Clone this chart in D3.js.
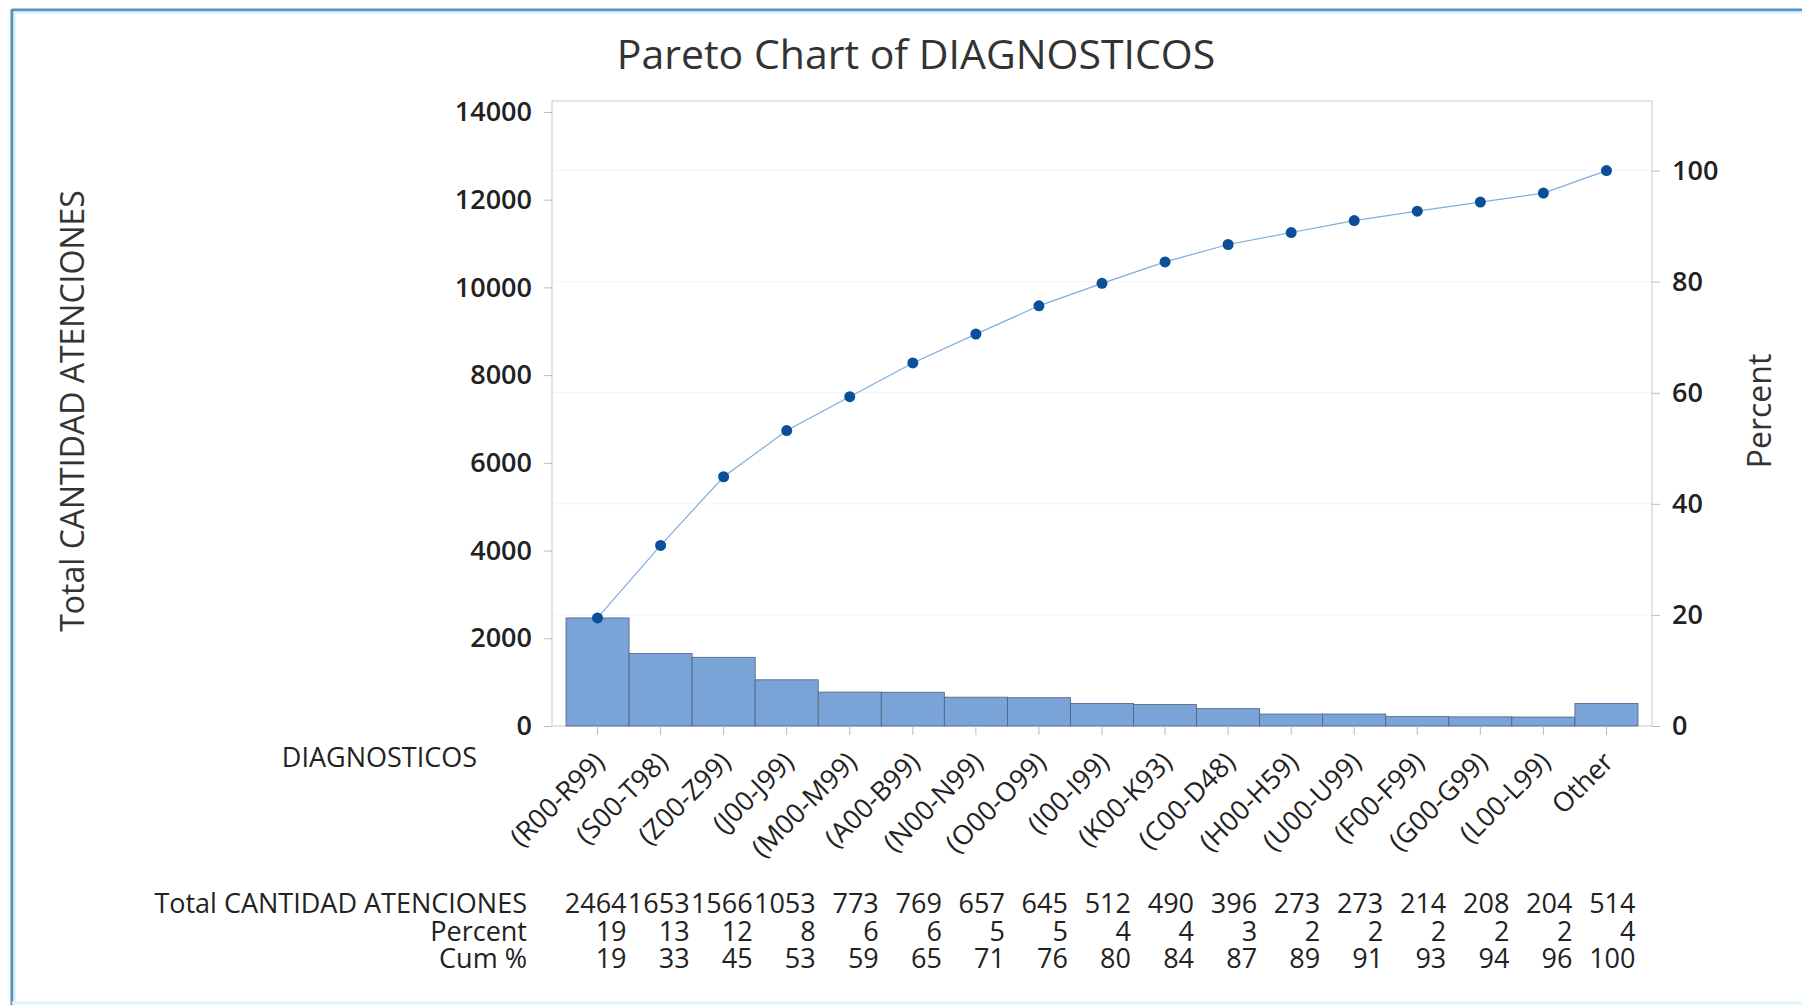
<!DOCTYPE html>
<html>
<head>
<meta charset="utf-8">
<script src="https://cdn.jsdelivr.net/npm/d3@7"></script>
<style>
  body { margin: 0; background: #fff; }
  svg { display: block; font-family: "Open Sans", "Noto Sans", sans-serif; }
</style>
</head>
<body>
<div id="chart"></div>
<script>
// categories and counts
var categories = ["(R00-R99)", "(S00-T98)", "(Z00-Z99)", "(J00-J99)", "(M00-M99)", "(A00-B99)",
    "(N00-N99)", "(O00-O99)", "(I00-I99)", "(K00-K93)", "(C00-D48)", "(H00-H59)",
    "(U00-U99)", "(F00-F99)", "(G00-G99)", "(L00-L99)", "Other"];
var counts = [2464, 1653, 1566, 1053, 773, 769, 657, 645, 512, 490, 396, 273, 273, 214, 208, 204, 514];
var percents = [19, 13, 12, 8, 6, 6, 5, 5, 4, 4, 3, 2, 2, 2, 2, 2, 4];
var cumPercents = [19, 33, 45, 53, 59, 65, 71, 76, 80, 84, 87, 89, 91, 93, 94, 96, 100];
var leftTicks = [0, 2000, 4000, 6000, 8000, 10000, 12000, 14000];
var rightTicks = [0, 20, 40, 60, 80, 100];

var W = 1802, H = 1005;
var plot = {left: 552, right: 1652, top: 101, bottom: 726};

var svg = d3.select("#chart").append("svg")
    .attr("width", W)
    .attr("height", H);

// frame around the whole picture
svg.append("line").attr("x1", 12).attr("x2", W).attr("y1", 10).attr("y2", 10)
    .attr("stroke", "#5a93c4").attr("stroke-width", 3);
svg.append("line").attr("x1", 12).attr("x2", W).attr("y1", 12.5).attr("y2", 12.5)
    .attr("stroke", "#d6f1fb").attr("stroke-width", 2);
svg.append("line").attr("x1", 12).attr("x2", 12).attr("y1", 9).attr("y2", H)
    .attr("stroke", "#5a8fb2").attr("stroke-width", 3);
svg.append("line").attr("x1", 14.5).attr("x2", 14.5).attr("y1", 12).attr("y2", H)
    .attr("stroke", "#d6f1fb").attr("stroke-width", 2);
svg.append("line").attr("x1", 12).attr("x2", W).attr("y1", 1003).attr("y2", 1003)
    .attr("stroke", "#dcf6fb").attr("stroke-width", 3);

var total = d3.sum(counts);
var cumCounts = Array.from(d3.cumsum(counts));

var x = d3.scaleBand()
    .domain(categories)
    .range([566, 1638])
    .padding(0);

var yMax = 14250;
var y = d3.scaleLinear().domain([0, yMax]).range([plot.bottom, plot.top]);
var yPct = d3.scaleLinear().domain([0, yMax / total * 100]).range([plot.bottom, plot.top]);

// title
svg.append("text")
    .attr("x", 916).attr("y", 69)
    .attr("text-anchor", "middle")
    .style("font-size", "41px")
    .style("font-weight", "500")
    .style("fill", "#333")
    .text("Pareto Chart of DIAGNOSTICOS");

// faint gridlines at percent ticks
svg.append("g").selectAll("line")
    .data(rightTicks.slice(1))
    .enter().append("line")
    .attr("x1", plot.left + 1).attr("x2", plot.right - 1)
    .attr("y1", function (d) { return yPct(d); })
    .attr("y2", function (d) { return yPct(d); })
    .attr("stroke", "#f4f4f4");

// plot frame
svg.append("rect")
    .attr("x", plot.left).attr("y", plot.top)
    .attr("width", plot.right - plot.left)
    .attr("height", plot.bottom - plot.top)
    .attr("fill", "none")
    .attr("stroke", "#c9c9c9");

// left axis
var yAxis = svg.append("g")
    .attr("transform", "translate(" + plot.left + ",0)")
    .call(d3.axisLeft(y).tickValues(leftTicks).tickFormat(d3.format("d")).tickSize(8).tickPadding(12));
// right axis
var yAxisR = svg.append("g")
    .attr("transform", "translate(" + plot.right + ",0)")
    .call(d3.axisRight(yPct).tickValues(rightTicks).tickFormat(d3.format("d")).tickSize(8).tickPadding(12));

[yAxis, yAxisR].forEach(function (a) {
    a.select(".domain").remove();
    a.selectAll(".tick line").attr("stroke", "#bbb");
    a.selectAll(".tick text")
        .style("font-size", "27px")
        .style("font-weight", "600")
        .style("font-family", "'Open Sans', sans-serif")
        .attr("fill", "#222");
});

// bars
svg.append("g").selectAll("rect")
    .data(counts)
    .enter().append("rect")
    .attr("x", function (d, i) { return x(categories[i]); })
    .attr("y", function (d) { return y(d); })
    .attr("width", x.bandwidth())
    .attr("height", function (d) { return y(0) - y(d); })
    .attr("fill", "#7aa3d8")
    .attr("stroke", "#4f607a")
    .attr("stroke-width", 0.8);

// x axis ticks + rotated labels
var xAxis = svg.append("g")
    .attr("transform", "translate(0," + plot.bottom + ")")
    .call(d3.axisBottom(x).tickSize(9).tickPadding(6));
xAxis.select(".domain").remove();
xAxis.selectAll(".tick line").attr("stroke", "#bbb");
xAxis.selectAll(".tick text")
    .style("font-size", "27px")
    .style("font-weight", "500")
    .style("font-family", "'Open Sans', sans-serif")
    .attr("fill", "#222")
    .attr("text-anchor", "end")
    .attr("y", 0)
    .attr("dy", "0.35em")
    .attr("transform", "translate(2,31) rotate(-45)");

svg.append("text")
    .attr("x", 477).attr("y", 767)
    .attr("text-anchor", "end")
    .style("font-size", "27px")
    .style("font-weight", "500")
    .style("fill", "#222")
    .text("DIAGNOSTICOS");

// cumulative line
var line = d3.line()
    .x(function (d, i) { return x(categories[i]) + x.bandwidth() / 2; })
    .y(function (d) { return yPct(d / total * 100); });

svg.append("path")
    .datum(cumCounts)
    .attr("d", line)
    .attr("fill", "none")
    .attr("stroke", "#7eaee0")
    .attr("stroke-width", 1.2);

svg.append("g").selectAll("circle")
    .data(cumCounts)
    .enter().append("circle")
    .attr("cx", function (d, i) { return x(categories[i]) + x.bandwidth() / 2; })
    .attr("cy", function (d) { return yPct(d / total * 100); })
    .attr("r", 5.5)
    .attr("fill", "#0b4f9a");

// axis titles
svg.append("text")
    .attr("transform", "translate(84,411) rotate(-90)")
    .attr("text-anchor", "middle")
    .style("font-size", "32px")
    .style("fill", "#333")
    .text("Total CANTIDAD ATENCIONES");

svg.append("text")
    .attr("transform", "translate(1771,411) rotate(-90)")
    .attr("text-anchor", "middle")
    .style("font-size", "32px")
    .style("fill", "#333")
    .text("Percent");

// table under the chart
var rows = [
    {label: "Total CANTIDAD ATENCIONES", values: counts},
    {label: "Percent", values: percents},
    {label: "Cum %", values: cumPercents}
];
var rowY = [913, 941, 968];

var table = svg.append("g")
    .style("font-size", "27px")
    .style("font-weight", "500")
    .style("fill", "#222");
rows.forEach(function (r, k) {
    table.append("text")
        .attr("x", 527).attr("y", rowY[k])
        .attr("text-anchor", "end")
        .text(r.label);
    table.selectAll(".v" + k)
        .data(r.values)
        .enter().append("text")
        .attr("class", "v" + k)
        .attr("x", function (d, i) { return x(categories[i]) + x.bandwidth() * 0.96; })
        .attr("y", rowY[k])
        .attr("text-anchor", "end")
        .text(function (d) { return d; });
});
</script>
</body>
</html>
